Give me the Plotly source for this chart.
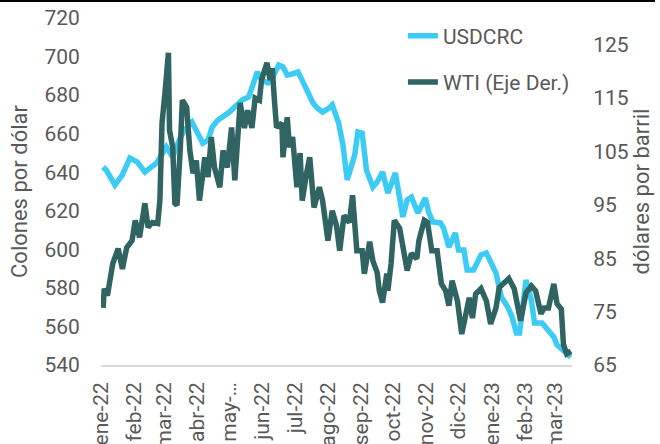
import plotly.graph_objects as go

# USDCRC (left axis, colones por dólar)
usd_dates = ["2022-01-03","2022-01-06","2022-01-14","2022-01-21","2022-01-28","2022-02-04","2022-02-11","2022-02-22",
             "2022-03-03","2022-03-09","2022-03-15","2022-03-20","2022-03-27","2022-04-01","2022-04-06","2022-04-11",
             "2022-04-15","2022-04-20","2022-04-25","2022-05-01","2022-05-08","2022-05-13","2022-05-19","2022-05-24",
             "2022-05-27","2022-05-31","2022-06-06","2022-06-10","2022-06-16","2022-06-20","2022-06-24","2022-06-29",
             "2022-07-04","2022-07-07","2022-07-12","2022-07-18","2022-07-22","2022-07-27","2022-08-02","2022-08-05",
             "2022-08-11","2022-08-15","2022-08-19","2022-08-23","2022-08-26","2022-08-29","2022-09-02","2022-09-06",
             "2022-09-12","2022-09-16","2022-09-21","2022-09-26","2022-10-03","2022-10-10","2022-10-14","2022-10-18",
             "2022-10-24","2022-10-31","2022-11-03","2022-11-07","2022-11-14","2022-11-17","2022-11-21","2022-11-22",
             "2022-11-28","2022-12-01","2022-12-06","2022-12-09","2022-12-15","2022-12-22","2022-12-27","2022-12-30",
             "2023-01-05","2023-01-10","2023-01-16","2023-01-20","2023-01-24","2023-01-27","2023-01-30","2023-02-02",
             "2023-02-07","2023-02-10","2023-02-17","2023-02-23","2023-02-28","2023-03-03","2023-03-08","2023-03-13",
             "2023-03-16"]
usd_values = [642.7,641.0,633.4,638.6,647.4,645.3,640.1,644.8,
              653.1,647.9,656.7,661.9,666.0,660.3,655.1,656.7,
              663.5,667.0,668.6,671.2,674.9,677.5,679.0,687.8,
              692.0,687.8,686.3,688.8,695.6,694.6,690.4,691.0,
              692.0,688.8,682.6,675.9,673.3,671.2,673.3,674.9,
              665.5,654.1,636.0,643.7,648.9,660.9,660.3,641.1,
              632.3,634.9,640.1,629.2,639.6,616.8,625.6,627.1,
              618.8,626.6,619.4,614.2,613.7,611.1,602.2,601.2,
              608.5,599.7,599.7,589.3,589.3,597.1,598.1,594.5,
              587.7,575.3,570.1,564.9,556.6,556.6,573.7,584.1,
              573.7,561.8,561.8,558.2,554.5,550.4,547.8,545.2,
              544.1]

# WTI (right axis, dólares por barril)
wti_dates = ["2022-01-03","2022-01-04","2022-01-07","2022-01-10","2022-01-12","2022-01-17","2022-01-21","2022-01-25",
             "2022-01-30","2022-02-02","2022-02-06","2022-02-11","2022-02-14","2022-02-18","2022-02-23","2022-02-25",
             "2022-02-27","2022-03-02","2022-03-05","2022-03-06","2022-03-09","2022-03-11","2022-03-13","2022-03-16",
             "2022-03-18","2022-03-22","2022-03-25","2022-03-28","2022-03-31","2022-04-03","2022-04-08","2022-04-11",
             "2022-04-14","2022-04-17","2022-04-22","2022-04-25","2022-04-29","2022-05-03","2022-05-06","2022-05-11",
             "2022-05-15","2022-05-18","2022-05-22","2022-05-25","2022-05-29","2022-05-31","2022-06-05","2022-06-08",
             "2022-06-10","2022-06-12","2022-06-14","2022-06-19","2022-06-20","2022-06-24","2022-06-26","2022-06-29",
             "2022-07-03","2022-07-06","2022-07-08","2022-07-12","2022-07-15","2022-07-19","2022-07-24","2022-07-27",
             "2022-08-01","2022-08-05","2022-08-09","2022-08-12","2022-08-16","2022-08-21","2022-08-24","2022-08-28",
             "2022-09-02","2022-09-04","2022-09-09","2022-09-12","2022-09-16","2022-09-18","2022-09-21","2022-09-25",
             "2022-09-26","2022-09-29","2022-10-02","2022-10-07","2022-10-11","2022-10-14","2022-10-18","2022-10-23",
             "2022-10-25","2022-10-30","2022-11-02","2022-11-06","2022-11-11","2022-11-15","2022-11-19","2022-11-22",
             "2022-11-25","2022-11-30","2022-12-04","2022-12-08","2022-12-11","2022-12-14","2022-12-17","2022-12-22",
             "2022-12-27","2022-12-31","2023-01-05","2023-01-08","2023-01-13","2023-01-17","2023-01-22","2023-01-28",
             "2023-02-02","2023-02-07","2023-02-11","2023-02-16","2023-02-19","2023-02-23","2023-02-28","2023-03-03",
             "2023-03-07","2023-03-09","2023-03-12","2023-03-16"]
wti_values = [75.7,79.3,78.0,82.7,84.0,86.8,83.0,87.0,
              88.3,92.1,88.9,95.3,90.8,91.7,91.5,95.8,
              110.3,116.5,123.5,109.0,105.8,95.3,94.9,105.2,
              114.6,113.3,105.2,100.9,103.3,95.8,103.9,100.2,
              107.7,102.0,98.3,105.2,102.0,109.5,99.6,114.1,
              109.4,112.7,109.4,115.0,114.6,118.4,121.6,118.4,
              120.6,114.6,109.5,110.3,103.9,111.4,105.8,107.7,
              98.3,104.7,95.8,100.9,103.9,94.5,98.3,95.8,
              88.3,93.9,91.1,86.4,93.0,91.7,96.8,86.4,
              86.4,82.1,88.1,84.5,82.3,78.9,76.7,82.1,
              78.9,84.0,92.1,90.6,85.1,82.7,85.9,84.9,
              88.3,92.1,91.7,86.4,86.4,80.2,78.9,76.1,
              80.8,77.0,70.8,75.2,77.6,73.8,78.3,79.3,
              77.0,72.7,75.7,79.5,80.4,81.2,79.3,73.3,
              78.5,79.8,78.9,74.6,75.7,75.7,80.2,76.5,
              75.5,68.9,67.1,67.6]

tick_dates = ["2022-01-01","2022-02-01","2022-03-01","2022-04-01","2022-05-01","2022-06-01","2022-07-01","2022-08-01",
              "2022-09-01","2022-10-01","2022-11-01","2022-12-01","2023-01-01","2023-02-01","2023-03-01"]
tick_labels = ["ene-22","feb-22","mar-22","abr-22","may-…","jun-22","jul-22","ago-22",
               "sep-22","oct-22","nov-22","dic-22","ene-23","feb-23","mar-23"]

left_ticks = [540, 560, 580, 600, 620, 640, 660, 680, 700, 720]
right_ticks = [65, 75, 85, 95, 105, 115, 125]

GRAY = "#595959"
FONT = "Roboto"
CLEAR = "rgba(0,0,0,0)"

fig = go.Figure()
fig.add_trace(go.Scatter(x=usd_dates, y=usd_values, name="USDCRC", mode="lines",
                         line=dict(color="#3CCBF4", width=5.5), legendgroup="a"))
fig.add_trace(go.Scatter(x=wti_dates, y=wti_values, name="WTI (Eje Der.)", mode="lines",
                         line=dict(color="#306462", width=5.5), yaxis="y2", legendgroup="b"))

fig.update_layout(
    width=660, height=444,
    margin=dict(l=101, r=88, t=18, b=79),
    paper_bgcolor="white", plot_bgcolor="white",
    font=dict(family=FONT, size=20, color=GRAY),
    xaxis=dict(type="date", range=["2022-01-01", "2023-03-17"], automargin=False,
               tickvals=tick_dates, ticktext=tick_labels, tickangle=-90,
               showgrid=False, zeroline=False, showline=True, linecolor="#D9D9D9", linewidth=1.5,
               ticks="outside", ticklen=7, tickcolor=CLEAR, tickfont=dict(size=21, color=GRAY)),
    yaxis=dict(range=[540, 720], tickvals=left_ticks, showgrid=False, zeroline=False, automargin=False,
               title=dict(text="Colones por dólar", font=dict(size=22, color=GRAY), standoff=10),
               tickfont=dict(size=21, color=GRAY), ticks="outside", ticklen=16, tickcolor=CLEAR),
    yaxis2=dict(range=[65, 130], tickvals=right_ticks, overlaying="y", side="right", automargin=False,
                showgrid=False, zeroline=False,
                title=dict(text="dólares por barril", font=dict(size=22, color=GRAY), standoff=3),
                tickfont=dict(size=21, color=GRAY), ticks="outside", ticklen=16, tickcolor=CLEAR),
    legend=dict(x=0.641, y=1.007, xanchor="left", yanchor="top", bgcolor=CLEAR,
                font=dict(size=21, color=GRAY), traceorder="grouped", tracegroupgap=16),
    showlegend=True,
)

fig.add_shape(type="line", xref="paper", yref="paper",
              x0=-101/471, x1=(655-101)/471, y0=(365-1)/347, y1=(365-1)/347,
              line=dict(color="black", width=2))

fig.write_html("out.html", config={"displayModeBar": False},
               post_script="document.body.style.margin='0';document.body.style.overflow='hidden';")
